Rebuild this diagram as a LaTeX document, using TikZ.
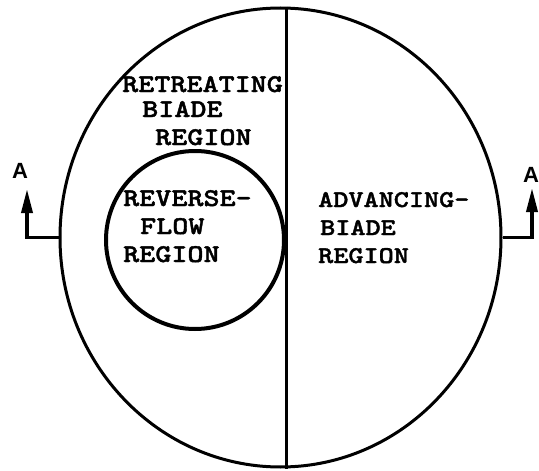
\documentclass[tikz,border=0pt]{standalone}
\usepackage{fontspec}
\newfontfamily\typew{lmmonolt10-bold.otf}[FakeStretch=1.2,FakeBold=1.6]
\setsansfont{Liberation Sans}
\usetikzlibrary{arrows.meta,shapes.geometric}
\tikzset{
  regiontxt/.style={font=\typew\fontsize{25.5}{28}\selectfont,anchor=base west,inner sep=0pt},
  advtxt/.style={regiontxt,font=\typew\fontsize{24}{28}\selectfont},
  seclbl/.style={font=\sffamily\bfseries\fontsize{22}{24}\selectfont,inner sep=0pt},
  cutline/.style={line width=3.6pt,-{Triangle[length=24pt,width=11pt]}},
}

\begin{document}
\begin{tikzpicture}[x=1pt,y=-1pt]
\useasboundingbox (0,0) rectangle (539,471);
% rotor disk and the two halves
\node[ellipse,draw,line width=3pt,minimum width=441pt,minimum height=459pt,inner sep=0pt] (disk) at (280.5,237.5) {};
\draw[line width=3pt] ([xshift=5.5pt]disk.north) -- ([xshift=5.5pt]disk.south);
\node[circle,draw,line width=4pt,minimum size=178pt,inner sep=0pt] (rev) at (195,240) {};
% section A-A
\node[seclbl] (aL) at (20,171) {A};
\node[seclbl] (aR) at (531,175) {A};
\coordinate (tipL) at (27,189);
\coordinate (tipR) at (532,188);
\draw[cutline] (disk.west) -| (tipL);
\draw[cutline] (disk.east) -| (tipR);
\foreach \x/\y/\t/\name in {122/92/RETREATING/ret1,142/117/BIADE/ret2,155/145/REGION/ret3,
  123/206/REVERSE-/rev1,140/234/FLOW/rev2,123/262/REGION/rev3}
  \node[regiontxt] (\name) at (\x,\y) {\t};
\foreach \x/\y/\t/\name in {318/207/ADVANCING-/adv1,320/235/BIADE/adv2,318/263/REGION/adv3}
  \node[advtxt] (\name) at (\x,\y) {\t};
\end{tikzpicture}
\end{document}
